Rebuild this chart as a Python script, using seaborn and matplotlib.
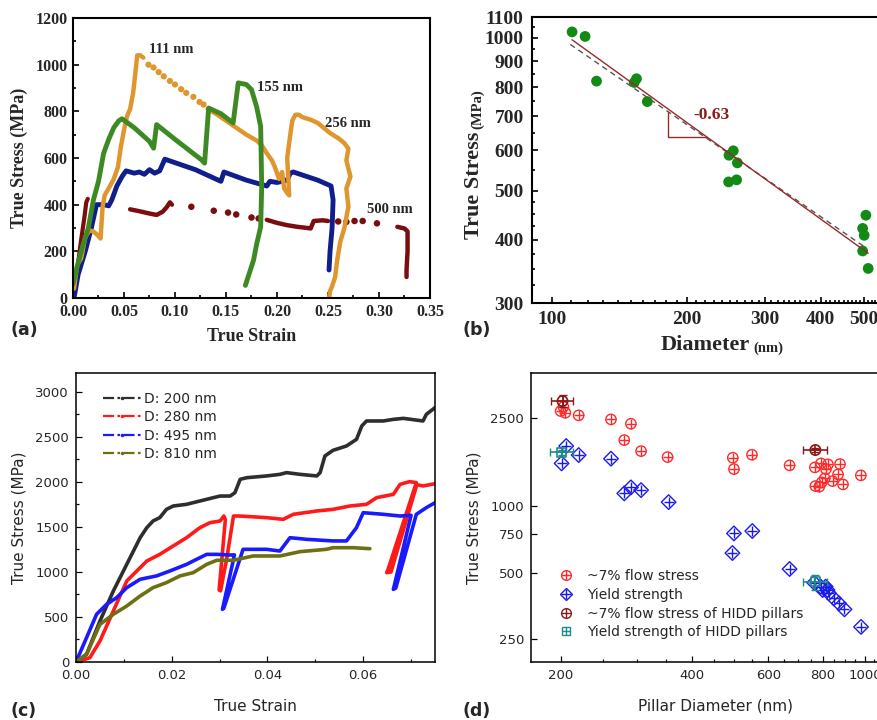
import matplotlib
matplotlib.use('Agg')
import matplotlib.pyplot as plt
import seaborn as sns
from matplotlib.lines import Line2D
from matplotlib.legend_handler import HandlerTuple
from matplotlib.ticker import NullFormatter

# ---------------- (a) stress-strain of pillars ----------------
a_blue_x = [0.001, 0.005, 0.012, 0.018, 0.023, 0.030, 0.035, 0.038, 0.043, 0.048, 0.052, 0.060, 0.065,
            0.070, 0.075, 0.080, 0.085, 0.088, 0.090, 0.120, 0.145, 0.148, 0.170, 0.190, 0.193, 0.200,
            0.210, 0.213, 0.216, 0.240, 0.253, 0.255, 0.254, 0.252, 0.251]
a_blue_y = [0, 100, 200, 300, 400, 400, 395, 420, 480, 520, 545, 535, 540,
            530, 550, 535, 545, 575, 595, 550, 500, 540, 505, 480, 500, 495,
            505, 535, 540, 505, 480, 420, 300, 200, 120]

a_green_x = [0.000, 0.005, 0.010, 0.015, 0.020, 0.025, 0.030, 0.035, 0.040, 0.045, 0.048, 0.060, 0.075,
             0.079, 0.082, 0.100, 0.126, 0.129, 0.133, 0.145, 0.157, 0.162, 0.170, 0.175, 0.180, 0.184,
             0.185, 0.184, 0.180, 0.177, 0.169]
a_green_y = [60, 150, 230, 300, 420, 500, 620, 680, 730, 760, 768, 730, 671,
             642, 743, 680, 592, 578, 814, 790, 750, 922, 915, 893, 820, 735,
             477, 305, 230, 162, 54]

a_orange_rise_x = [0.001, 0.004, 0.008, 0.012, 0.016, 0.020, 0.024, 0.027, 0.029, 0.031, 0.035, 0.040,
                   0.044, 0.047, 0.050, 0.053, 0.056, 0.059, 0.061, 0.063, 0.066, 0.069]
a_orange_rise_y = [40, 140, 170, 260, 290, 285, 270, 255, 390, 440, 470, 510,
                   560, 650, 720, 780, 810, 880, 960, 1040, 1040, 1030]
a_orange_dots_x = [0.074, 0.079, 0.084, 0.089, 0.095, 0.100, 0.106, 0.111, 0.118, 0.124, 0.128]
a_orange_dots_y = [1000, 988, 968, 950, 930, 915, 895, 879, 862, 840, 829]
a_orange_fall_x = [0.132, 0.140, 0.150, 0.160, 0.170, 0.180, 0.185, 0.190, 0.195, 0.198, 0.202, 0.205,
                   0.207, 0.210, 0.212, 0.210, 0.213, 0.215, 0.218, 0.221, 0.225, 0.233, 0.240, 0.252,
                   0.260, 0.266, 0.270, 0.268, 0.272, 0.268, 0.270, 0.266, 0.262, 0.259, 0.257, 0.254,
                   0.252, 0.251]
a_orange_fall_y = [810, 790, 760, 730, 700, 675, 655, 620, 590, 560, 510, 540,
                   470, 450, 440, 600, 700, 760, 785, 786, 775, 764, 750, 707,
                   685, 664, 640, 590, 520, 470, 391, 300, 240, 162, 90, 50,
                   30, 0]

a_dred_seg1_x = [0.005, 0.008, 0.011, 0.013, 0.0145]
a_dred_seg1_y = [150, 250, 340, 410, 425]
a_dred_seg2_x = [0.056, 0.065, 0.075, 0.082, 0.088, 0.092, 0.095, 0.097]
a_dred_seg2_y = [380, 372, 362, 356, 370, 390, 410, 400]
a_dred_seg3_x = [0.190, 0.200, 0.210, 0.220, 0.230, 0.233, 0.236, 0.245, 0.250]
a_dred_seg3_y = [335, 322, 312, 305, 300, 298, 330, 333, 330]
a_dred_seg4_x = [0.318, 0.325, 0.328, 0.328, 0.327, 0.327]
a_dred_seg4_y = [305, 298, 285, 200, 120, 90]
a_dred_dots_x = [0.116, 0.138, 0.152, 0.160, 0.175, 0.182, 0.260, 0.268, 0.276, 0.284, 0.298]
a_dred_dots_y = [391, 374, 366, 358, 345, 341, 328, 326, 330, 330, 320]

a_labels = ['111 nm', '155 nm', '256 nm', '500 nm']
a_label_x = [0.096, 0.203, 0.270, 0.311]
a_label_y = [1065, 900, 747, 380]

# ---------------- (b) size effect ----------------
b_diam = [110.7, 118.4, 125.6, 152.6, 154.4, 163.3, 249, 254.6, 260, 248.5, 259,
          496.6, 496.6, 500.6, 505, 511]
b_stress = [1028, 1007, 822, 817, 831, 749, 587, 599, 567, 520, 525,
            380, 421, 408, 447, 351]
b_fit_d = [110.7, 511]
b_fit_s = [992, 376]
b_dash_d = [109.7, 502]
b_dash_s = [971, 387]
b_tri_d = [182, 182, 221]
b_tri_s = [716, 639, 639]

# ---------------- (c) stress-strain, 4 diameters ----------------
c_labels = ['D: 200 nm', 'D: 280 nm', 'D: 495 nm', 'D: 810 nm']
c_black_x = [0, 0.0022, 0.005, 0.0078, 0.0106, 0.0134, 0.0148, 0.0161, 0.0175, 0.0189, 0.0203, 0.0231,
             0.0259, 0.0287, 0.0301, 0.0322, 0.0332, 0.0343, 0.0357, 0.0398, 0.0426, 0.044, 0.0468,
             0.0503, 0.051, 0.052, 0.0537, 0.0565, 0.0586, 0.0597, 0.0607, 0.0642, 0.0663, 0.0684,
             0.0725, 0.0732, 0.075]
c_black_y = [0, 85, 455, 789, 1085, 1381, 1493, 1567, 1604, 1696, 1733, 1752,
             1789, 1826, 1844, 1844, 1881, 2030, 2048, 2067, 2085, 2104, 2085,
             2067, 2104, 2289, 2352, 2400, 2474, 2622, 2678, 2678, 2696, 2707,
             2678, 2752, 2826]
c_red_x = [0, 0.0029, 0.005, 0.0078, 0.0106, 0.0127, 0.0148, 0.0175, 0.0203, 0.0231, 0.0259, 0.028,
           0.0301, 0.0309, 0.0312, 0.0299, 0.0302, 0.0315, 0.0329, 0.0342, 0.0398, 0.0433, 0.0454,
           0.0503, 0.0537, 0.0572, 0.0607, 0.0628, 0.0663, 0.0677, 0.0697, 0.0711, 0.0652, 0.0649,
           0.0658, 0.0712, 0.0725, 0.075]
c_red_y = [0, 48, 233, 567, 900, 1011, 1122, 1196, 1289, 1381, 1493, 1548,
           1567, 1622, 1580, 800, 790, 1150, 1622, 1622, 1604, 1585, 1641,
           1678, 1696, 1733, 1752, 1826, 1863, 1974, 2004, 1993, 1030, 993,
           1000, 1970, 1956, 1981]
c_blue_x = [0, 0.0022, 0.0043, 0.0064, 0.0085, 0.0106, 0.0134, 0.0168, 0.0196, 0.0231, 0.0252, 0.0273,
            0.0294, 0.0322, 0.0331, 0.0306, 0.0309, 0.0349, 0.0398, 0.0426, 0.0447, 0.0482, 0.0537,
            0.0565, 0.0586, 0.060, 0.0642, 0.0677, 0.070, 0.0663, 0.0668, 0.0711, 0.0732, 0.075]
c_blue_y = [0, 270, 530, 641, 715, 826, 919, 956, 1011, 1085, 1141, 1196,
            1196, 1189, 1190, 585, 600, 1252, 1252, 1233, 1381, 1363, 1345,
            1345, 1493, 1659, 1641, 1622, 1630, 807, 820, 1641, 1715, 1770]
c_olive_x = [0, 0.0022, 0.005, 0.0078, 0.0106, 0.0134, 0.0161, 0.0189, 0.0217, 0.0245, 0.0273, 0.0294,
             0.0329, 0.037, 0.0426, 0.0468, 0.0523, 0.0537, 0.0579, 0.0614]
c_olive_y = [0, 85, 418, 530, 622, 733, 826, 882, 956, 993, 1085, 1130,
             1130, 1178, 1178, 1226, 1252, 1270, 1270, 1259]

# ---------------- (d) strength vs pillar diameter ----------------
d_flow_d = [200, 205, 203, 220, 261, 290, 280, 306, 352, 497, 500, 550, 671, 767, 792, 822, 876,
            813, 867, 808, 795, 769, 785, 842, 890, 978]
d_flow_s = [2691, 2644, 2810, 2573, 2467, 2358, 1989, 1773, 1666, 1655, 1470, 1707, 1528, 1496,
            1560, 1544, 1549, 1470, 1391, 1334, 1279, 1232, 1223, 1297, 1253, 1377]
d_yield_d = [206, 201, 220, 261, 280, 290, 306, 354, 500, 551, 496, 671, 764, 791, 812, 820, 799,
             826, 848, 871, 897, 979]
d_yield_s = [1869, 1560, 1701, 1638, 1141, 1215, 1181, 1042, 752, 771, 613, 519, 450, 432, 432,
             417, 417, 403, 382, 363, 341, 284]
d_hidd_flow_d = [202, 769]
d_hidd_flow_s = [2985, 1793]
d_hidd_flow_xerr = [12, 50]
d_hidd_flow_yerr = [180, 40]
d_hidd_yield_d = [201, 769]
d_hidd_yield_s = [1750, 454]
d_hidd_yield_xerr = [12, 50]
d_hidd_yield_yerr = [50, 35]
d_labels = ['~7% flow stress', 'Yield strength', '~7% flow stress of HIDD pillars',
            'Yield strength of HIDD pillars']

SERIF = 'Liberation Serif'
W, H = 878, 720


def box(l, t, r, b):
    return [l / W, 1 - b / H, (r - l) / W, (b - t) / H]


def line(ax, x, y, color, lw):
    sns.lineplot(x=x, y=y, ax=ax, color=color, lw=lw, sort=False, estimator=None,
                 solid_capstyle='round', solid_joinstyle='round')


def dots(ax, x, y, color, s):
    sns.scatterplot(x=x, y=y, ax=ax, color=color, s=s, edgecolor='none', linewidth=0)


def style_axes(ax, lw):
    for sp in ax.spines.values():
        sp.set_visible(True)
        sp.set_color('black')
        sp.set_linewidth(lw)
    ax.tick_params(which='both', direction='in', color='black', width=lw * 0.8,
                   bottom=True, left=True, top=False, right=False)
    ax.tick_params(which='major', length=4)
    ax.tick_params(which='minor', length=2.2)
    ax.grid(False)


sns.set_theme(style='white')
plt.rcParams['font.family'] = ['DejaVu Sans']

fig = plt.figure(figsize=(8.78, 7.2), dpi=100)

# ---- (a)
ax = fig.add_axes(box(73, 18, 430, 298))
c_or, c_gr, c_bl, c_dr = '#e0962e', '#3d8a24', '#101e8c', '#7a0e0e'
line(ax, a_dred_seg1_x, a_dred_seg1_y, c_dr, 3)
line(ax, a_dred_seg2_x, a_dred_seg2_y, c_dr, 3.2)
line(ax, a_dred_seg3_x, a_dred_seg3_y, c_dr, 3.2)
line(ax, a_dred_seg4_x, a_dred_seg4_y, c_dr, 3.2)
dots(ax, a_dred_dots_x, a_dred_dots_y, c_dr, 22)
line(ax, a_blue_x, a_blue_y, c_bl, 3.5)
line(ax, a_orange_rise_x, a_orange_rise_y, c_or, 3.2)
dots(ax, a_orange_dots_x, a_orange_dots_y, c_or, 20)
line(ax, a_orange_fall_x, a_orange_fall_y, c_or, 3.2)
line(ax, a_green_x, a_green_y, c_gr, 3.5)
for t, x, y in zip(a_labels, a_label_x, a_label_y):
    ax.text(x, y, t, family=SERIF, weight='bold', fontsize=10.5, ha='center', va='center')
ax.set_xlim(0, 0.35)
ax.set_ylim(0, 1200)
ax.set_xticks([0, 0.05, 0.10, 0.15, 0.20, 0.25, 0.30, 0.35])
ax.set_xticklabels(['0.00', '0.05', '0.10', '0.15', '0.20', '0.25', '0.30', '0.35'])
ax.set_xticks([0.025, 0.075, 0.125, 0.175, 0.225, 0.275, 0.325], minor=True)
ax.set_yticks(range(0, 1201, 200))
ax.set_yticks(range(100, 1200, 200), minor=True)
style_axes(ax, 1.5)
ax.tick_params(axis='both', pad=4)
for lab in ax.get_xticklabels() + ax.get_yticklabels():
    lab.set_family(SERIF)
    lab.set_weight('bold')
    lab.set_fontsize(11.5)
ax.set_xlabel('True Strain', family=SERIF, weight='bold', fontsize=13, labelpad=6)
ax.set_ylabel('True Stress (MPa)', family=SERIF, weight='bold', fontsize=13, labelpad=5)

# ---- (b)
ax = fig.add_axes(box(532, 17, 896, 303))
dark_red = '#9a2a2a'
line(ax, b_dash_d, b_dash_s, '#555555', 1.0)
ax.lines[-1].set_linestyle((0, (4, 3)))
line(ax, b_fit_d, b_fit_s, dark_red, 1.0)
line(ax, b_tri_d, b_tri_s, dark_red, 1.0)
dots(ax, b_diam, b_stress, '#138a13', 60)
ax.text(227, 705, '-0.63', color='#8b1a1a', family=SERIF, weight='bold', fontsize=12.5,
        ha='center', va='center')
ax.set_xscale('log')
ax.set_yscale('log')
ax.set_xlim(90, 567)
ax.set_ylim(300, 1100)
ax.set_xticks([100, 200, 300, 400, 500])
ax.set_xticklabels(['100', '200', '300', '400', '500'])
ax.set_xticks([v for v in range(110, 600, 10) if v % 100], minor=True)
ax.xaxis.set_minor_formatter(NullFormatter())
ax.set_yticks(range(300, 1101, 100))
ax.set_yticklabels([str(v) for v in range(300, 1101, 100)])
ax.set_yticks([v for v in range(325, 1100, 25) if v % 100 and (v < 500 or v % 50 == 0)], minor=True)
ax.yaxis.set_minor_formatter(NullFormatter())
style_axes(ax, 1.5)
ax.tick_params(axis='y', pad=6)
ax.tick_params(axis='x', pad=6)
for lab in ax.get_xticklabels() + ax.get_yticklabels():
    lab.set_family(SERIF)
    lab.set_weight('bold')
    lab.set_fontsize(14)
fig.text(474 / W, 1 - 185 / H, 'True Stress', rotation=90, ha='center', va='center',
         family=SERIF, weight='bold', fontsize=16)
fig.text(477.5 / W, 1 - 109 / H, '(MPa)', rotation=90, ha='center', va='center',
         family=SERIF, weight='bold', fontsize=10.5)
fig.text(705 / W, 1 - 345 / H, 'Diameter', ha='center', va='center',
         family=SERIF, weight='bold', fontsize=16)
fig.text(768 / W, 1 - 348 / H, '(nm)', ha='center', va='center',
         family=SERIF, weight='bold', fontsize=10.5)

# ---- (c)
ax = fig.add_axes(box(76, 373, 435, 662))
c_cols = ['#2e2e2e', '#ff1a1a', '#1a1aff', '#6e6e12']
for xs, ys, col in zip([c_black_x, c_red_x, c_blue_x, c_olive_x],
                       [c_black_y, c_red_y, c_blue_y, c_olive_y], c_cols):
    line(ax, xs, ys, col, 2.6)
ax.set_xlim(0, 0.075)
ax.set_ylim(0, 3211)
ax.set_xticks([0, 0.02, 0.04, 0.06])
ax.set_xticklabels(['0.00', '0.02', '0.04', '0.06'])
ax.set_xticks([0.01, 0.03, 0.05, 0.07], minor=True)
ax.set_yticks(range(0, 3001, 500))
ax.set_yticks(range(250, 3001, 500), minor=True)
style_axes(ax, 1.1)
ax.tick_params(axis='both', labelsize=9.5, pad=5)
ax.set_xlabel('True Strain', fontsize=11, labelpad=12)
ax.set_ylabel('True Stress (MPa)', fontsize=11, labelpad=6)
hc = [Line2D([0, 0.5, 1], [0, 0, 0], color=c, lw=1.6, ls=(0, (5, 1.5, 1.2, 1.5)), marker='.',
             markersize=3, markevery=[1]) for c in c_cols]
ax.legend(hc, c_labels, loc='upper left', bbox_to_anchor=(0.06, 0.955), frameon=False,
          fontsize=10, handlelength=2.7, handletextpad=0.25, labelspacing=0.33, borderaxespad=0)

# ---- (d)
ax = fig.add_axes(box(531, 373, 900, 662))
c_r, c_b, c_h, c_t = '#ff2a2a', '#1a1aee', '#8a1a1a', '#1f8a8a'
sns.scatterplot(x=d_flow_d, y=d_flow_s, ax=ax, marker='o', s=55, facecolor='none',
                edgecolor=c_r, linewidth=1.0)
sns.scatterplot(x=d_flow_d, y=d_flow_s, ax=ax, marker='+', s=50, color=c_r, linewidth=1.0)
sns.scatterplot(x=d_yield_d, y=d_yield_s, ax=ax, marker='D', s=55, facecolor='none',
                edgecolor=c_b, linewidth=1.0)
sns.scatterplot(x=d_yield_d, y=d_yield_s, ax=ax, marker='+', s=50, color=c_b, linewidth=1.0)
ax.errorbar(d_hidd_flow_d, d_hidd_flow_s, xerr=d_hidd_flow_xerr, yerr=d_hidd_flow_yerr,
            fmt='none', ecolor=c_h, elinewidth=1.2, capsize=3)
sns.scatterplot(x=d_hidd_flow_d, y=d_hidd_flow_s, ax=ax, marker='o', s=55, facecolor='none',
                edgecolor=c_h, linewidth=1.2)
sns.scatterplot(x=d_hidd_flow_d, y=d_hidd_flow_s, ax=ax, marker='+', s=50, color=c_h, linewidth=1.2)
ax.errorbar(d_hidd_yield_d, d_hidd_yield_s, xerr=d_hidd_yield_xerr, yerr=d_hidd_yield_yerr,
            fmt='none', ecolor=c_t, elinewidth=1.2, capsize=3)
sns.scatterplot(x=d_hidd_yield_d, y=d_hidd_yield_s, ax=ax, marker='s', s=40, facecolor='none',
                edgecolor=c_t, linewidth=1.2)
sns.scatterplot(x=d_hidd_yield_d, y=d_hidd_yield_s, ax=ax, marker='+', s=40, color=c_t, linewidth=1.2)
ax.set_xscale('log')
ax.set_yscale('log')
ax.set_xlim(171, 1203)
ax.set_ylim(197, 4000)
ax.set_xticks([200, 400, 600, 800, 1000])
ax.set_xticklabels(['200', '400', '600', '800', '1000'])
ax.set_xticks([v for v in range(250, 1200, 50) if v % 200], minor=True)
ax.xaxis.set_minor_formatter(NullFormatter())
ax.set_yticks([250, 500, 750, 1000, 2500])
ax.set_yticklabels(['250', '500', '750', '1000', '2500'])
ax.set_yticks([], minor=True)
ax.yaxis.set_minor_formatter(NullFormatter())
style_axes(ax, 1.1)
ax.tick_params(axis='both', labelsize=9.5, pad=5)
ax.set_xlabel('Pillar Diameter (nm)', fontsize=11, labelpad=12)
ax.set_ylabel('True Stress (MPa)', fontsize=11, labelpad=6)


def mk(marker, col, ms):
    return (Line2D([], [], ls='none', marker=marker, ms=ms, mfc='none', mec=col, mew=1.0),
            Line2D([], [], ls='none', marker='+', ms=ms, color=col, mew=1.0))


hd = [mk('o', c_r, 7), mk('D', c_b, 6.5), mk('o', c_h, 7), mk('s', c_t, 6)]
ax.legend(hd, d_labels, handler_map={tuple: HandlerTuple(ndivide=1)}, loc='lower left',
          bbox_to_anchor=(0.058, 0.06), frameon=False, fontsize=10, handlelength=1.2,
          handletextpad=0.9, labelspacing=0.33, borderaxespad=0)

for t, x, y in [('(a)', 10, 330), ('(b)', 463, 330), ('(c)', 10, 711), ('(d)', 463, 711)]:
    fig.text(x / W, 1 - y / H, t, weight='bold', fontsize=12.5, ha='left', va='center')

fig.savefig('out.png', dpi=100)
